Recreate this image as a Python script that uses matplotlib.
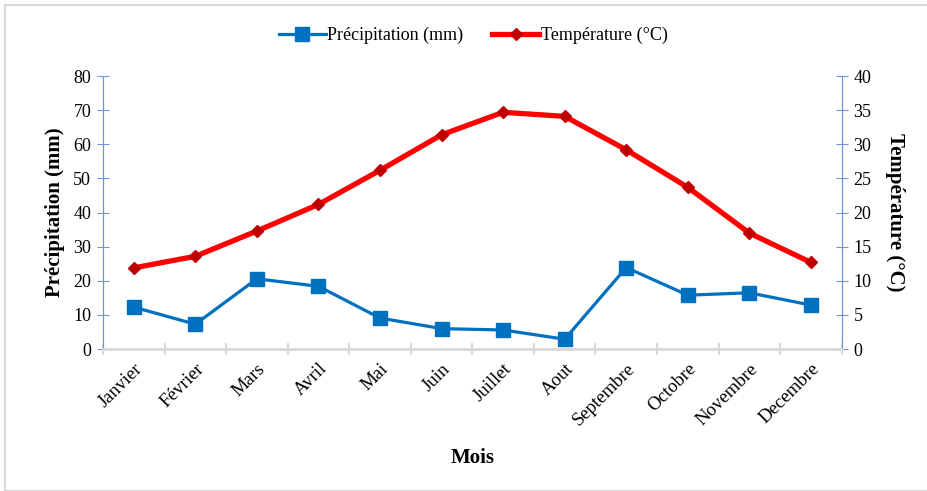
import matplotlib.pyplot as plt
from matplotlib.patches import Rectangle

plt.rcParams['font.family'] = ['Liberation Serif', 'DejaVu Serif']

# donnees
mois = ["Janvier", "Février", "Mars", "Avril", "Mai", "Juin", "Juillet",
        "Aout", "Septembre", "Octobre", "Novembre", "Decembre"]
precipitation = [12.3, 7.3, 20.6, 18.4, 9.1, 6.0, 5.6, 2.9, 23.9, 15.8, 16.5, 12.9]
temperature = [11.9, 13.6, 17.3, 21.2, 26.2, 31.4, 34.7, 34.1, 29.2, 23.7, 17.0, 12.7]

fig = plt.figure(figsize=(9.28, 4.91), dpi=100)
fig.patches.append(Rectangle((0.005, 0.0), 0.995, 0.99, transform=fig.transFigure,
                             fill=False, edgecolor="#d9d9d9", linewidth=1.5))
ax = fig.add_axes([0.111, 0.289, 0.796, 0.556])
ax2 = ax.twinx()

x = list(range(len(mois)))
l1, = ax.plot(x, precipitation, color="#0070c0", linewidth=2.3, marker="s",
              markersize=10, label="Précipitation (mm)", zorder=3)
l2, = ax2.plot(x, temperature, color="#ff0000", linewidth=3.8, marker="D",
               markersize=6, markerfacecolor="#c00000", markeredgecolor="#c00000",
               label="Température (°C)", zorder=3)

ax.set_xlim(-0.5, 11.5)
ax.set_ylim(0, 80)
ax2.set_ylim(0, 40)
ax.set_yticks(range(0, 81, 10))
ax2.set_yticks(range(0, 41, 5))
ax.set_xticks([i - 0.5 for i in range(13)])
ax.set_xticklabels([])
ax.set_xticks(x, minor=True)
ax.set_xticklabels(mois, minor=True, rotation=45, ha="right", rotation_mode="anchor",
                   fontsize=13.5)
ax.tick_params(axis="x", which="minor", length=0, pad=8)
ax.tick_params(axis="x", which="major", direction="inout", length=9, color="#d9d9d9", width=1.5)

axe_bleu = "#6f94d8"
for a in (ax, ax2):
    a.spines["top"].set_visible(False)
    a.spines["bottom"].set_color("#d9d9d9")
    a.spines["bottom"].set_linewidth(1.8)
    a.spines["left"].set_color(axe_bleu)
    a.spines["right"].set_color(axe_bleu)
ax.tick_params(axis="y", direction="inout", length=9, color=axe_bleu, labelsize=13, pad=4)
ax2.tick_params(axis="y", direction="inout", length=9, color=axe_bleu, labelsize=13, pad=4)

ax.set_ylabel("Précipitation (mm)", fontsize=15, fontweight="bold", labelpad=6)
ax2.set_ylabel("Température (°C)", fontsize=15, fontweight="bold", rotation=270, labelpad=24)
ax.set_xlabel("Mois", fontsize=15, fontweight="bold", labelpad=14)

fig.legend(handles=[l1, l2], loc="center", bbox_to_anchor=(0.51, 0.927), ncol=2,
           frameon=False, fontsize=13, handlelength=2.6, columnspacing=1.6, handletextpad=0.1)

plt.savefig("out.png", dpi=100)
plt.close()
